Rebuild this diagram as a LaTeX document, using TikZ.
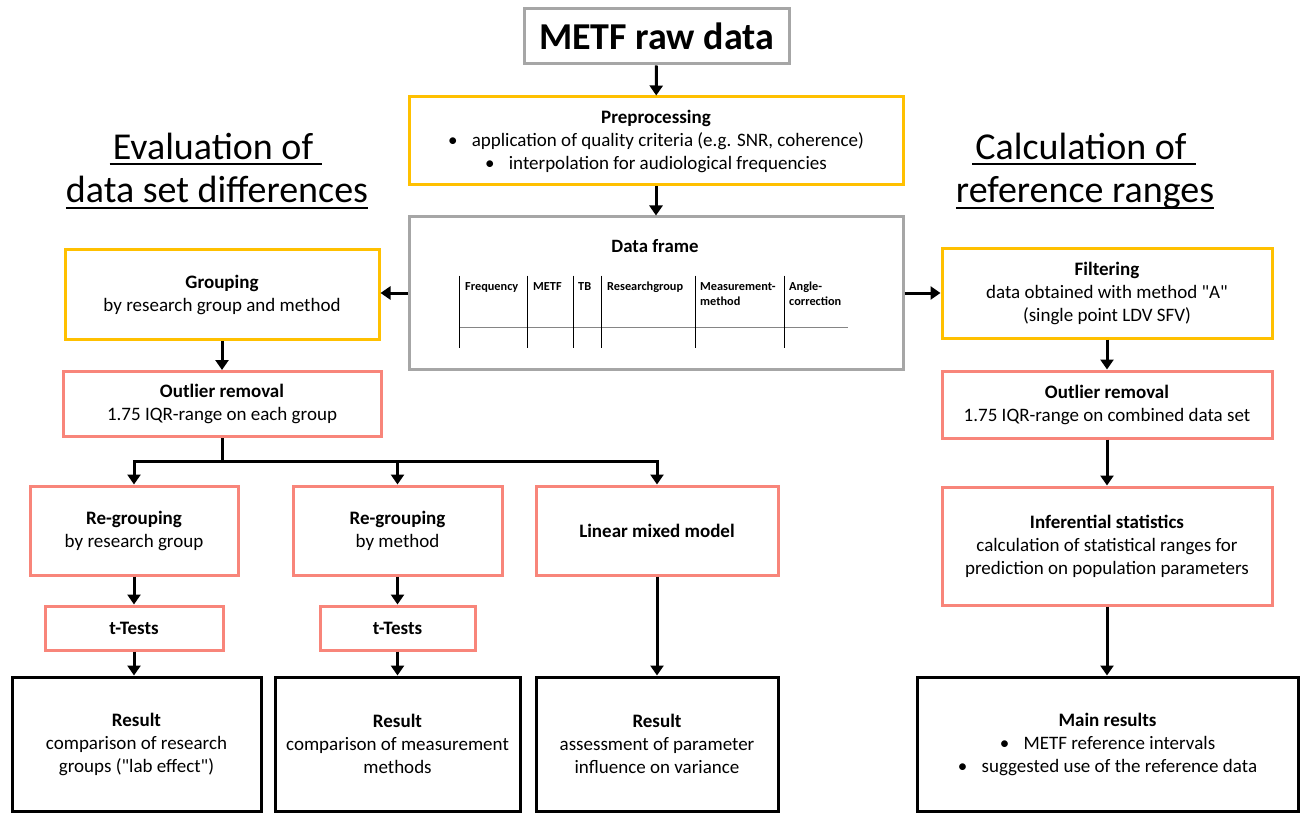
\documentclass[tikz,border=0pt]{standalone}
\usepackage{fontspec}
\setmainfont{Carlito}
\usetikzlibrary{arrows.meta}
\definecolor{yel}{HTML}{FFC000}
\definecolor{sal}{HTML}{F8857A}
\definecolor{gry}{HTML}{A6A6A6}
\newcommand{\bul}{\textbullet\hspace{0.75em}}
\newcommand{\qd}{\textquotedbl}
\tikzset{
  box/.style={draw, line width=3pt, fill=white, align=center, inner sep=2pt,
    font=\fontsize{19}{23}\selectfont},
  ybox/.style={box, draw=yel},
  sbox/.style={box, draw=sal},
  gbox/.style={box, draw=gry},
  kbox/.style={box, draw=black},
  arr/.style={line width=3pt, -{Triangle[width=13pt,length=10pt]}},
  ln/.style={line width=3pt},
  head/.style={inner sep=0pt, anchor=base, font=\fontsize{38}{42}\selectfont},
  th/.style={inner sep=0pt, anchor=base west, align=left, font=\fontsize{12.3}{15}\selectfont\bfseries},
}
\begin{document}
\begin{tikzpicture}[x=1pt,y=-1pt]
\useasboundingbox (0,0) rectangle (1301,813);
% boxes
\node[gbox, minimum width=265, minimum height=55, font=\fontsize{38}{40}\selectfont\bfseries] (raw) at (656.5,36.5) {METF raw data};
\node[ybox, minimum width=494, minimum height=88] (pre) at (656,141) {\textbf{Preprocessing}\\ \bul application of quality criteria (e.g. SNR, coherence)\\ \bul interpolation for audiological frequencies};
\node[gbox, minimum width=494, minimum height=152] (df) at (656,293) {};
\node[ybox, minimum width=314, minimum height=90] (grp) at (222,294.5) {\textbf{Grouping}\\ by research group and method};
\node[sbox, minimum width=318, minimum height=65] (outL) at (222,404) {\textbf{Outlier removal}\\ 1.75 IQR-range on each group};
\node[sbox, minimum width=208, minimum height=89] (rg1) at (134,530.5) {\textbf{Re-grouping}\\ by research group};
\node[sbox, minimum width=209, minimum height=89] (rg2) at (397.5,530.5) {\textbf{Re-grouping}\\ by method};
\node[sbox, minimum width=242, minimum height=89] (lmm) at (657,530.5) {\textbf{Linear mixed model}};
\node[sbox, minimum width=178, minimum height=44] (tt1) at (134,628) {\textbf{t-Tests}};
\node[sbox, minimum width=155, minimum height=44] (tt2) at (397.5,628) {\textbf{t-Tests}};
\node[kbox, minimum width=249, minimum height=134] (res1) at (136.5,744) {\textbf{Result}\\ comparison of research\\ groups (\qd lab effect\qd)};
\node[kbox, minimum width=245, minimum height=134] (res2) at (397.5,744) {\textbf{Result}\\ comparison of measurement\\ methods};
\node[kbox, minimum width=242, minimum height=134] (res3) at (657,744) {\textbf{Result}\\ assessment of parameter\\ influence on variance};
\node[ybox, minimum width=330, minimum height=90] (filt) at (1107,293) {\textbf{Filtering}\\ data obtained with method \qd A\qd\\ (single point LDV SFV)};
\node[sbox, minimum width=330, minimum height=67] (outR) at (1107,404.5) {\textbf{Outlier removal}\\ 1.75 IQR-range on combined data set};
\node[sbox, minimum width=330, minimum height=118] (inf) at (1107,546) {\textbf{Inferential statistics}\\ calculation of statistical ranges for\\ prediction on population parameters};
\node[kbox, minimum width=381, minimum height=134] (main) at (1107.5,744) {\textbf{Main results}\\ \bul METF reference intervals\\ \bul suggested use of the reference data};
% data frame content
\node[font=\fontsize{18.8}{22}\selectfont\bfseries, anchor=base] (dft) at (655,252.5) {Data frame};
\draw[line width=1pt, gry!80!black] (459,327) -- (848,327);
\foreach \x in {459,527,573,601,695,784} \draw[line width=1pt] (\x,275.5) -- (\x,347.5);
\node[th] (c1) at (465,290) {Frequency};
\node[th] (c2) at (533,290) {METF};
\node[th] (c3) at (578,290) {TB};
\node[th] (c4) at (607,290) {Researchgroup};
\node[th] (c5) at (700,305) {Measurement-\\method};
\node[th] (c6) at (789,305) {Angle-\\correction};
% headings
\node[head] (h1) at (213,160) {Evaluation of};
\node[head] (h2) at (217,203) {data set differences};
\node[head] (h3) at (1081,160) {Calculation of};
\node[head] (h4) at (1085,203) {reference ranges};
\draw[line width=2pt] ([yshift=-4pt,xshift=-3pt]h1.base west) -- ([yshift=-4pt,xshift=9pt]h1.base east);
\draw[line width=2pt] ([yshift=-5pt]h2.base west) -- ([yshift=-5pt]h2.base east);
\draw[line width=2pt] ([yshift=-4pt,xshift=-3pt]h3.base west) -- ([yshift=-4pt,xshift=9pt]h3.base east);
\draw[line width=2pt] ([yshift=-5pt]h4.base west) -- ([yshift=-5pt]h4.base east);
% connectors
\draw[arr] (raw) -- (pre);
\draw[arr] (pre) -- (df);
\draw[arr] (df.west) -- (df.west -| grp.east);
\draw[arr] (df.east) -- (filt.west);
\draw[arr] (grp) -- (outL);
\coordinate (j) at (222,461);
\draw[ln] (outL.south) -- (j);
\draw[arr] (j) -| (rg1.north);
\draw[arr] (j) -| (rg2.north);
\draw[arr] (j) -| (lmm.north);
\draw[arr] (rg1) -- (tt1);
\draw[arr] (rg2) -- (tt2);
\draw[arr] (tt1.south) -- (tt1.south |- res1.north);
\draw[arr] (tt2) -- (res2);
\draw[arr] (lmm) -- (res3);
\draw[arr] (filt) -- (outR);
\draw[arr] (outR) -- (inf);
\draw[arr] (inf.south) -- (inf.south |- main.north);
\end{tikzpicture}
\end{document}
